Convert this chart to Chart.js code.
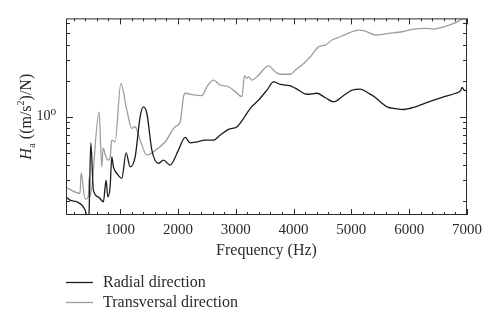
<!DOCTYPE html>
<html>
<head>
<meta charset="utf-8">
<script src="https://cdn.jsdelivr.net/npm/chart.js@4/dist/chart.umd.min.js"></script>
<style>
    html, body { margin: 0; padding: 0; background: #fff; }
    #wrap { width: 500px; height: 325px; }
</style>
</head>
<body>
<div id="wrap"><canvas id="chartCanvas" width="500" height="325"></canvas></div>
<script>
// frequency (Hz) and H_a values
const radialFreq = [66, 135, 251, 338, 395, 435, 460, 494, 539, 625, 712, 758, 788, 828, 857, 885, 944, 1030, 1105, 1174,
    1261, 1347, 1404, 1463, 1550, 1664, 1751, 1867, 2010, 2126, 2213, 2329, 2473, 2616, 2732, 2876, 3022, 3136, 3252, 3396,
    3541, 3655, 3771, 3945, 4031, 4234, 4407, 4551, 4694, 4840, 5013, 5157, 5300, 5416, 5503, 5619, 5763, 5906, 6109, 6339,
    6571, 6802, 6888, 6918, 6945, 6974, 7000];
const radialVals = [0.215, 0.202, 0.196, 0.184, 0.167, 0.145, 0.148, 0.607, 0.245, 0.215, 0.196, 0.297, 0.215, 0.261, 0.464, 0.383, 0.337, 0.307, 0.501, 0.383,
    0.464, 1.0, 1.21, 1.07, 0.528, 0.409, 0.436, 0.396, 0.528, 0.674, 0.607, 0.619, 0.639, 0.639, 0.704, 0.785, 0.826, 0.97, 1.175, 1.38,
    1.67, 1.95, 1.86, 1.81, 1.73, 1.54, 1.57, 1.44, 1.33, 1.47, 1.67, 1.70, 1.57, 1.45, 1.33, 1.21, 1.17, 1.15, 1.21, 1.33,
    1.45, 1.57, 1.65, 1.76, 1.67, 1.65, 1.68];

const transFreq = [66, 308, 326, 395, 452, 464, 481, 637, 684, 706, 758, 793, 828, 857, 914, 1013, 1117, 1203, 1261, 1347,
    1463, 1577, 1780, 1953, 2040, 2097, 2126, 2270, 2416, 2502, 2616, 2732, 2876, 2992, 3108, 3153, 3195, 3222, 3281, 3396,
    3569, 3685, 3771, 3945, 4031, 4147, 4291, 4435, 4551, 4667, 4810, 4983, 5127, 5243, 5416, 5647, 5879, 6052, 6282, 6426,
    6599, 6772, 6888, 6945, 7000];
const transVals = [0.258, 0.230, 0.341, 0.206, 0.215, 0.314, 0.218, 1.10, 0.383, 0.548, 0.461, 0.436, 0.461, 0.639, 0.619, 1.90, 1.14, 0.80, 0.826, 0.639,
    0.48, 0.511, 0.619, 0.826, 0.909, 1.47, 1.57, 1.52, 1.50, 1.78, 2.02, 1.84, 1.78, 1.62, 1.47, 2.20, 2.09, 2.15, 2.02, 2.23,
    2.66, 2.37, 2.26, 2.26, 2.45, 2.70, 3.16, 3.83, 3.96, 4.36, 4.64, 5.05, 5.28, 5.18, 4.80, 4.95, 5.11, 5.35, 5.45, 5.38,
    5.62, 6.00, 6.40, 6.61, 6.40];

const seriesNames = ['Radial direction', 'Transversal direction'];
const xTicks = [200, 400, 600, 800, 1000, 1200, 1400, 1600, 1800, 2000, 2200, 2400, 2600, 2800, 3000, 3200, 3400, 3600, 3800, 4000,
    4200, 4400, 4600, 4800, 5000, 5200, 5400, 5600, 5800, 6000, 6200, 6400, 6600, 6800, 7000];
const yTicks = [0.2, 0.3, 0.4, 0.5, 0.6, 0.7, 0.8, 0.9, 1, 2, 3, 4, 5, 6];

const serif = "'Liberation Serif', 'DejaVu Serif', serif";
const ink = '#2b2b2b';

function pairs(xs, ys) {
    return xs.map((x, i) => ({ x: x, y: ys[i] }));
}

// frame with inward ticks, y title and legend
const framePlugin = {
    id: 'frame',
    afterDraw(chart) {
        const ctx = chart.ctx;
        const a = chart.chartArea;
        const xs = chart.scales.x;
        const ys = chart.scales.y;
        ctx.save();
        ctx.strokeStyle = ink;
        ctx.lineWidth = 1;
        ctx.strokeRect(a.left + 0.5, a.top + 0.5, a.right - a.left - 1, a.bottom - a.top - 1);
        ctx.beginPath();
        xs.ticks.forEach(t => {
            const px = Math.round(xs.getPixelForValue(t.value)) + 0.5;
            const len = t.value % 1000 === 0 ? 6 : 3;
            ctx.moveTo(px, a.bottom); ctx.lineTo(px, a.bottom - len);
            ctx.moveTo(px, a.top); ctx.lineTo(px, a.top + len);
        });
        ys.ticks.forEach(t => {
            const py = Math.round(ys.getPixelForValue(t.value)) + 0.5;
            const len = t.value === 1 ? 7 : 4;
            ctx.moveTo(a.left, py); ctx.lineTo(a.left + len, py);
            ctx.moveTo(a.right, py); ctx.lineTo(a.right - len, py);
        });
        ctx.stroke();

        // y axis title: H_a ((m/s^2)/N)
        const parts = [
            { t: 'H', f: 'italic 16px ' + serif, dy: 0 },
            { t: 'a', f: '11px ' + serif, dy: 4 },
            { t: ' ((m/s', f: '16px ' + serif, dy: 0 },
            { t: '2', f: '10px ' + serif, dy: -7 },
            { t: ')/N)', f: '16px ' + serif, dy: 0 }
        ];
        let total = 0;
        parts.forEach(p => { ctx.font = p.f; p.w = ctx.measureText(p.t).width; total += p.w; });
        ctx.translate(31, (a.top + a.bottom) / 2);
        ctx.rotate(-Math.PI / 2);
        ctx.fillStyle = ink;
        ctx.textBaseline = 'alphabetic';
        let cx = -total / 2;
        parts.forEach(p => { ctx.font = p.f; ctx.fillText(p.t, cx, p.dy); cx += p.w; });
        ctx.restore();

        // legend
        ctx.save();
        ctx.font = '16px ' + serif;
        ctx.textBaseline = 'middle';
        chart.data.datasets.forEach((ds, i) => {
            const y = 282 + i * 20 + 0.5;
            ctx.strokeStyle = ds.borderColor;
            ctx.lineWidth = 1.3;
            ctx.beginPath();
            ctx.moveTo(66, y); ctx.lineTo(93, y);
            ctx.stroke();
            ctx.fillStyle = ink;
            ctx.fillText(ds.label, 103, y);
        });
        ctx.restore();
    }
};

const ctx = document.getElementById('chartCanvas').getContext('2d');
new Chart(ctx, {
    type: 'line',
    data: {
        datasets: [{
            label: seriesNames[0],
            data: pairs(radialFreq, radialVals),
            borderColor: '#1c1c1c',
            borderWidth: 1.3,
            pointRadius: 0,
            cubicInterpolationMode: 'monotone',
            fill: false
        }, {
            label: seriesNames[1],
            data: pairs(transFreq, transVals),
            borderColor: '#9d9d9d',
            borderWidth: 1.3,
            pointRadius: 0,
            cubicInterpolationMode: 'monotone',
            fill: false
        }]
    },
    options: {
        responsive: false,
        animation: false,
        layout: { padding: { top: 18, right: 33, left: 0, bottom: 63 } },
        plugins: {
            legend: { display: false },
            tooltip: { enabled: false }
        },
        scales: {
            x: {
                type: 'linear',
                min: 65,
                max: 7000,
                afterFit: s => { s.height = 47; },
                afterBuildTicks: s => { s.ticks = xTicks.map(v => ({ value: v })); },
                grid: { display: false, drawTicks: false },
                border: { display: false },
                ticks: {
                    autoSkip: false,
                    maxRotation: 0,
                    padding: 6,
                    color: ink,
                    font: { family: serif, size: 15 },
                    callback: v => (v % 1000 === 0 ? String(v) : '')
                },
                title: {
                    display: true,
                    text: 'Frequency (Hz)',
                    color: ink,
                    font: { family: serif, size: 16 },
                    padding: { top: 0, bottom: 2 }
                }
            },
            y: {
                type: 'logarithmic',
                min: 0.152,
                max: 6.6,
                afterFit: s => { s.width = 66; },
                afterBuildTicks: s => { s.ticks = yTicks.map(v => ({ value: v })); },
                grid: { display: false, drawTicks: false },
                border: { display: false },
                ticks: {
                    autoSkip: false,
                    padding: 10,
                    color: ink,
                    font: { family: serif, size: 14 },
                    callback: v => (v === 1 ? '10\u2070' : '')
                }
            }
        }
    },
    plugins: [framePlugin]
});
</script>
</body>
</html>
